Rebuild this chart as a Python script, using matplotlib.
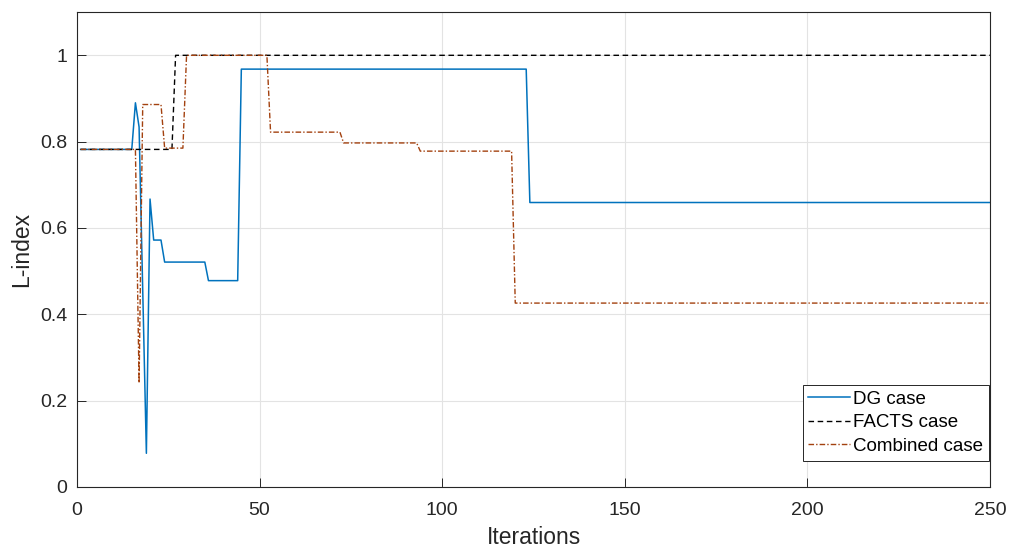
import matplotlib
matplotlib.use("Agg")
import matplotlib.pyplot as plt
from matplotlib.ticker import FixedLocator, FuncFormatter

# ---- data ----
dg_x = [1, 15, 16, 17, 19, 20, 21, 23, 24, 35, 36, 44, 45, 123, 124, 250]
dg_y = [0.782, 0.782, 0.890, 0.834, 0.078, 0.667, 0.572, 0.572, 0.521, 0.521,
        0.478, 0.478, 0.968, 0.968, 0.659, 0.659]

facts_x = [1, 26, 27, 250]
facts_y = [0.782, 0.782, 1.0, 1.0]

comb_x = [1, 16, 17, 18, 23, 24, 29, 30, 52, 53, 72, 73, 93, 94, 119, 120, 250]
comb_y = [0.782, 0.782, 0.241, 0.886, 0.886, 0.785, 0.785, 1.0, 1.0, 0.822,
          0.822, 0.797, 0.797, 0.778, 0.778, 0.426, 0.426]

x_ticks = [0, 50, 100, 150, 200, 250]
y_ticks = [0, 0.2, 0.4, 0.6, 0.8, 1.0]
labels = ["DG case", "FACTS case", "Combined case"]

# ---- style ----
plt.rcParams['font.family'] = ['Liberation Sans', 'DejaVu Sans']
axcol = '#262626'

fig = plt.figure(figsize=(10.09, 5.52), dpi=100)
ax = fig.add_axes([0.0763, 0.1178, 0.9049, 0.8602])

ax.plot(dg_x, dg_y, color='#0072BD', lw=1.1, label=labels[0])
ax.plot(facts_x, facts_y, color='black', lw=1.0, linestyle=(0, (4, 2.6)), label=labels[1])
ax.plot(comb_x, comb_y, color='#A3410F', lw=1.0, linestyle=(0, (4, 1.5, 1, 1.5)), label=labels[2])

ax.set_xlim(0, 250)
ax.set_ylim(0, 1.1)
ax.xaxis.set_major_locator(FixedLocator(x_ticks))
ax.yaxis.set_major_locator(FixedLocator(y_ticks))
ax.yaxis.set_major_formatter(FuncFormatter(lambda v, p: f"{v:g}"))

ax.grid(True, color='#e3e3e3', lw=0.8)
ax.set_axisbelow(True)
for s in ax.spines.values():
    s.set_color(axcol)
    s.set_linewidth(0.8)
ax.tick_params(direction='in', length=6.5, width=0.7, colors=axcol,
               labelsize=14, pad=7, top=False, right=False)
ax.tick_params(axis='x', pad=11)

ax.set_xlabel("Iterations", fontsize=16.5, color=axcol, labelpad=5)
ax.set_ylabel("L-index", fontsize=16.5, color=axcol, labelpad=5)

leg = ax.legend(loc='upper right', bbox_to_anchor=(0.999, 0.215), borderaxespad=0,
                fontsize=13.5, frameon=True, fancybox=False, framealpha=1,
                edgecolor=axcol, handlelength=2.2, handletextpad=0.2,
                labelspacing=0.35, borderpad=0.3)
leg.get_frame().set_linewidth(0.7)
for t in leg.get_texts():
    t.set_color('black')

fig.savefig("out.png", dpi=100)
